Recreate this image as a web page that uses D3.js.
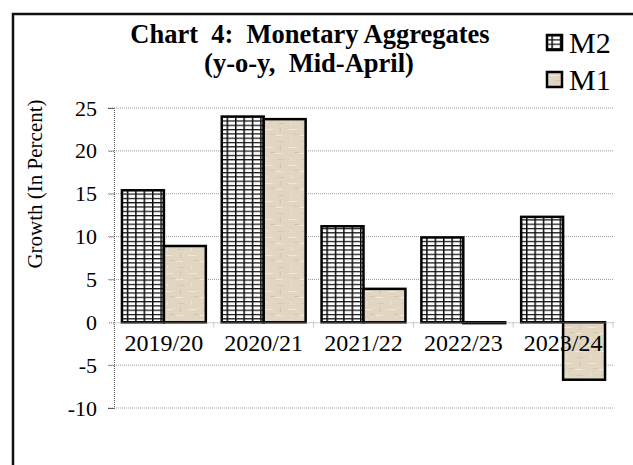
<!DOCTYPE html>
<html>
<head>
<meta charset="utf-8">
<script src="https://cdn.jsdelivr.net/npm/d3@7"></script>
<style>
  body { margin: 0; background: #fff; }
  svg { display: block; font-family: "Liberation Serif", "Times New Roman", serif; }
</style>
</head>
<body>
<svg width="633" height="465"></svg>
<script>
// data
const years = ["2019/20", "2020/21", "2021/22", "2022/23", "2023/24"];
const series = ["M2", "M1"];
const m2 = [15.4, 24.0, 11.2, 9.9, 12.3];
const m1 = [8.9, 23.7, 3.9, -0.1, -6.7];
const yTicks = [-10, -5, 0, 5, 10, 15, 20, 25];

const width = 633;
const height = 465;
const plotLeft = 114, plotRight = 613, plotTop = 108, plotBottom = 408;

const rows = years.map((y, i) => ({ year: y, M2: m2[i], M1: m1[i] }));

const svg = d3.select("svg").attr("width", width).attr("height", height);

// fill patterns
const defs = svg.append("defs");
const grid = defs.append("pattern")
  .attr("id", "m2fill")
  .attr("patternUnits", "userSpaceOnUse")
  .attr("width", 8.4).attr("height", 4.3)
  .attr("x", 122).attr("y", 0);
grid.append("rect").attr("width", 8.4).attr("height", 4.3).attr("fill", "#fff");
grid.append("line").attr("x1", 0.7).attr("x2", 0.7).attr("y1", 0).attr("y2", 4.3)
  .attr("stroke", "#000").attr("stroke-width", 1.5);
grid.append("line").attr("x1", 0).attr("x2", 8.4).attr("y1", 0.6).attr("y2", 0.6)
  .attr("stroke", "#111").attr("stroke-width", 1.3);

const tex = defs.append("pattern")
  .attr("id", "m1fill")
  .attr("patternUnits", "userSpaceOnUse")
  .attr("width", 24).attr("height", 18);
tex.append("rect").attr("width", 24).attr("height", 18).attr("fill", "#e0d6c2");
tex.append("rect").attr("x", 2).attr("y", 3).attr("width", 9).attr("height", 1).attr("fill", "#efe9dc");
tex.append("rect").attr("x", 14).attr("y", 9).attr("width", 7).attr("height", 1).attr("fill", "#efe9dc");
tex.append("rect").attr("x", 5).attr("y", 13).attr("width", 1).attr("height", 4).attr("fill", "#ece4d4");
tex.append("rect").attr("x", 18).attr("y", 1).attr("width", 1).attr("height", 5).attr("fill", "#d0c4ac");
tex.append("rect").attr("x", 8).attr("y", 8).attr("width", 5).attr("height", 1).attr("fill", "#d2c6ae");
tex.append("rect").attr("x", 16).attr("y", 15).attr("width", 6).attr("height", 1).attr("fill", "#d3c8b0");

const fills = { M2: "url(#m2fill)", M1: "url(#m1fill)" };

const x0 = d3.scaleBand().domain(years).range([plotLeft, plotRight]).padding(0);
const x1 = d3.scaleBand().domain(series).range([0, x0.bandwidth()])
  .paddingInner(0).paddingOuter(0.19);
const yScale = d3.scaleLinear().domain([-10, 25]).range([plotBottom, plotTop]);

// gridlines
svg.append("g")
  .selectAll("line")
  .data(yTicks.filter(d => d !== 0))
  .enter()
  .append("line")
  .attr("x1", plotLeft - 6).attr("x2", plotRight)
  .attr("y1", d => yScale(d)).attr("y2", d => yScale(d))
  .attr("stroke", "#9a9a9a").attr("stroke-width", 1)
  .attr("stroke-dasharray", "1,1");

// y axis
const yAxis = d3.axisLeft(yScale).tickValues(yTicks).tickSize(6).tickPadding(11)
  .tickFormat(d => String(d));
const gy = svg.append("g").attr("transform", `translate(${plotLeft},0)`).call(yAxis);
gy.select(".domain").attr("stroke", "#555").attr("stroke-dasharray", "1,1");
gy.selectAll(".tick line").attr("stroke", "#666").attr("stroke-dasharray", "1,1");
gy.selectAll(".tick text")
  .style("font-size", "22px").style("font-family", "Liberation Serif").attr("fill", "#000");

// bars
svg.append("g")
  .selectAll("g")
  .data(rows)
  .enter()
  .append("g")
  .attr("transform", d => `translate(${x0(d.year)},0)`)
  .selectAll("rect")
  .data(d => series.map(k => ({ key: k, value: d[k] })))
  .enter()
  .append("rect")
  .attr("x", d => x1(d.key))
  .attr("y", d => yScale(Math.max(0, d.value)))
  .attr("width", x1.bandwidth())
  .attr("height", d => Math.abs(yScale(d.value) - yScale(0)))
  .attr("fill", d => fills[d.key])
  .attr("stroke", "#000")
  .attr("stroke-width", 2.5);

// x axis on zero line
const xAxis = d3.axisBottom(x0).tickSize(0).tickPadding(12);
const gx = svg.append("g").attr("transform", `translate(0,${yScale(0)})`).call(xAxis);
gx.select(".domain").attr("stroke", "#999").attr("stroke-dasharray", "1,1");
gx.selectAll(".tick text")
  .style("font-size", "24px").style("font-family", "Liberation Serif").attr("fill", "#000");
gx.selectAll(".sep")
  .data(years.map(d => x0(d)).concat([plotRight]))
  .enter()
  .append("line")
  .attr("class", "sep")
  .attr("x1", d => d).attr("x2", d => d)
  .attr("y1", 0).attr("y2", 5)
  .attr("stroke", "#999").attr("stroke-dasharray", "1,1");

// title
svg.append("text")
  .attr("x", 310).attr("y", 43)
  .attr("text-anchor", "middle")
  .style("font-weight", "bold").style("font-size", "26.5px")
  .style("white-space", "pre")
  .text("Chart  4:  Monetary Aggregates");
svg.append("text")
  .attr("x", 309).attr("y", 72)
  .attr("text-anchor", "middle")
  .style("font-weight", "bold").style("font-size", "26.5px")
  .style("white-space", "pre")
  .text("(y-o-y,  Mid-April)");

// y label
svg.append("text")
  .attr("transform", "rotate(-90)")
  .attr("x", -184).attr("y", 42)
  .attr("text-anchor", "middle")
  .style("font-size", "21px")
  .text("Growth (In Percent)");

// legend
const legend = svg.append("g")
  .selectAll("g")
  .data(series)
  .enter()
  .append("g")
  .attr("transform", (d, i) => `translate(547,${35 + i * 37})`);
legend.append("rect")
  .attr("width", 15).attr("height", 15)
  .attr("fill", d => fills[d])
  .attr("stroke", "#000").attr("stroke-width", 2.5);
legend.append("text")
  .attr("x", 22).attr("y", 18)
  .style("font-size", "30px")
  .text(d => d);

// outer frame (left and top edges visible)
svg.append("path")
  .attr("d", `M13,${height} L13,14 L${width},14`)
  .attr("fill", "none").attr("stroke", "#111").attr("stroke-width", 2.5);
</script>
</body>
</html>
